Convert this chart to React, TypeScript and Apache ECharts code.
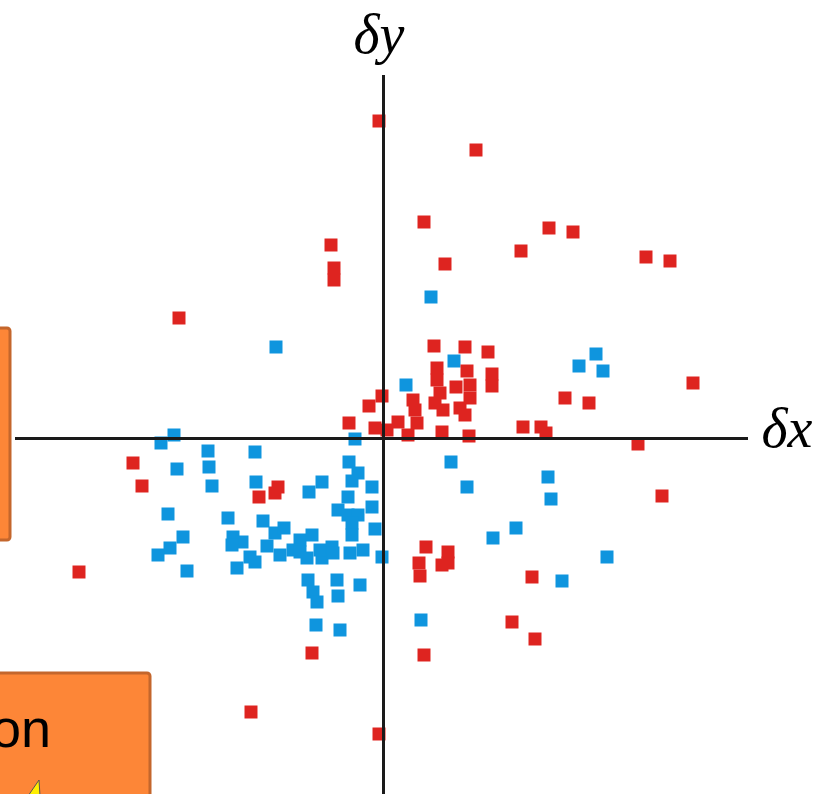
import React, { useEffect, useRef } from "react";
import * as echarts from "echarts";

// δx, δy values (axis origin at the crossing)
const redPoints: [number, number][] = [
  [-4, 317], [93, 288], [41, 216], [166, 210], [190, 206], [-52, 193], [138, 187],
  [-49, 170], [-49, 158], [62, 174], [263, 181], [287, 177], [-204, 120],
  [51, 92], [82, 91], [105, 86], [54, 70], [54, 58], [84, 67], [73, 51], [87, 53],
  [109, 64], [109, 52], [57, 45], [52, 35], [60, 28], [87, 40], [77, 30], [82, 23],
  [-1, 42], [-14, 32], [30, 38], [32, 28], [15, 16], [34, 15], [25, 3], [-8, 10],
  [4, 8], [59, 6], [86, 2], [-34, 15], [140, 11], [158, 11], [163, 5], [182, 40],
  [206, 35], [310, 55], [255, -6], [279, -58],
  [-250, -25], [-241, -48], [-105, -49], [-108, -55], [-124, -59],
  [43, -109], [65, -114], [36, -125], [59, -127], [65, -125], [37, -138],
  [149, -139], [-304, -134], [129, -184], [152, -201], [-71, -215], [41, -217],
  [-132, -274], [-4, -296],
];

const bluePoints: [number, number][] = [
  [48, 141], [-107, 91], [71, 77], [23, 53], [213, 84], [196, 72], [220, 67], [-28, -1],
  [-222, -5], [-209, 3], [-175, -13], [-128, -14], [-206, -31], [-174, -29], [-171, -48],
  [-127, -44], [-215, -76], [-155, -80], [-120, -83], [-200, -99], [-150, -99],
  [-141, -104], [-151, -107], [-213, -110], [-225, -117], [-116, -108], [-133, -119],
  [-128, -124], [-146, -130], [-196, -133], [-108, -95], [-103, -117], [-99, -90],
  [-61, -44], [-74, -54], [-34, -24], [-25, -35], [-31, -43], [-11, -49], [-35, -59],
  [-45, -72], [-35, -77], [-25, -77], [-11, -69], [-31, -85], [-31, -97], [-8, -91],
  [-83, -102], [-71, -97], [-90, -112], [-83, -114], [-76, -120], [-61, -120],
  [-63, -112], [-51, -109], [-50, -115], [-33, -115], [-20, -112], [-1, -119],
  [-75, -142], [-70, -154], [-66, -164], [-46, -142], [-45, -158], [-23, -147],
  [-67, -187], [-43, -192],
  [68, -24], [84, -49], [165, -39], [168, -61], [133, -90], [110, -100], [224, -119],
  [179, -143], [38, -182],
];

const xRange = { min: -383, max: 437 };
const yRange = { min: -356, max: 438 };
const xAxisExtent: [number, number] = [-368, 365];
const yAxisExtent: [number, number] = [-356, 363];

export default function App() {
  const ref = useRef<HTMLDivElement>(null);
  useEffect(() => {
    if (!ref.current) return;
    const chart = echarts.init(ref.current, null, { renderer: "svg" });
    const orange = "#fd8637";
    const orangeBorder = "#c4662c";
    const serifLabel = {
      fill: "#000",
      fontFamily: "'Liberation Serif', 'Times New Roman', serif",
      fontStyle: "italic",
      fontSize: 56,
      textAlign: "center",
      textVerticalAlign: "middle",
    };
    chart.setOption({
      animation: false,
      grid: { left: 0, right: 0, top: 0, bottom: 0 },
      xAxis: { type: "value", min: xRange.min, max: xRange.max, show: false },
      yAxis: { type: "value", min: yRange.min, max: yRange.max, show: false },
      graphic: [
        {
          type: "rect",
          shape: { x: -10, y: 328, width: 20, height: 212, r: 3 },
          style: { fill: orange, stroke: orangeBorder, lineWidth: 3 },
          z: 0,
        },
        {
          type: "rect",
          shape: { x: -10, y: 673, width: 160, height: 140, r: 3 },
          style: { fill: orange, stroke: orangeBorder, lineWidth: 3 },
          z: 0,
        },
        {
          type: "text",
          x: 51,
          y: 728,
          style: {
            text: "on",
            fill: "#000",
            fontFamily: "'Liberation Sans', Arial, sans-serif",
            fontSize: 54,
            textAlign: "right",
            textVerticalAlign: "middle",
          },
          z: 1,
        },
        {
          type: "polygon",
          shape: { points: [[28, 796], [39, 780], [40, 796]] },
          style: { fill: "#ffee00", stroke: "#555", lineWidth: 1 },
          z: 1,
        },
        {
          type: "text",
          x: 379,
          y: 34,
          style: { ...serifLabel, text: "δy" },
        },
        {
          type: "text",
          x: 787,
          y: 428,
          style: { ...serifLabel, text: "δx" },
        },
      ],
      series: [
        {
          type: "line",
          data: [],
          z: 1,
          markLine: {
            silent: true,
            symbol: "none",
            label: { show: false },
            lineStyle: { color: "#1a1a1a", width: 3, type: "solid" },
            data: [
              [{ coord: [xAxisExtent[0], 0] }, { coord: [xAxisExtent[1], 0] }],
              [{ coord: [0, yAxisExtent[0]] }, { coord: [0, yAxisExtent[1]] }],
            ],
          },
        },
        {
          type: "scatter",
          data: bluePoints,
          symbol: "rect",
          symbolSize: 13,
          itemStyle: { color: "#0f95de", opacity: 1 },
          z: 3,
        },
        {
          type: "scatter",
          data: redPoints,
          symbol: "rect",
          symbolSize: 13,
          itemStyle: { color: "#de2420", opacity: 1 },
          z: 4,
        },
      ],
    });
    return () => chart.dispose();
  }, []);
  return (
    <div
      ref={ref}
      style={{ position: "fixed", left: 0, top: 0, width: 820, height: 794 }}
    />
  );
}
